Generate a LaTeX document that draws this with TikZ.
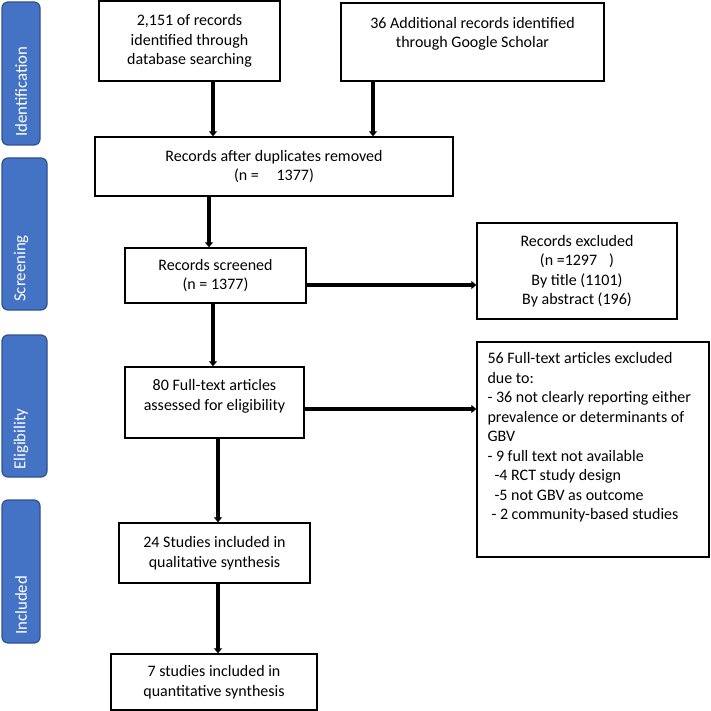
\documentclass[tikz,border=0pt]{standalone}
\usepackage{fontspec}
\setmainfont{Carlito}
\usetikzlibrary{arrows.meta}
\definecolor{bandfill}{HTML}{4472C4}
\definecolor{banddraw}{HTML}{2F528F}
\tikzset{
  box/.style={draw=black, line width=1.4pt, fill=white, inner sep=0pt, align=center,
    font=\fontsize{16}{19.5}\selectfont},
  txt/.style={inner sep=0pt, align=center, font=\fontsize{16}{19.5}\selectfont},
  band/.style={draw=banddraw, line width=1.2pt, fill=bandfill, rounded corners=6pt, inner sep=0pt},
  bandtext/.style={text=white, inner sep=0pt, rotate=90, anchor=west, font=\fontsize{16.8}{18}\selectfont},
  arr/.style={line width=4pt, -{Triangle[width=8pt,length=5pt]}}
}
\begin{document}
\begin{tikzpicture}[x=1pt,y=-1pt]
\useasboundingbox (0,0) rectangle (710,711);
% side bands
\node[band, minimum width=38, minimum height=143] (b1) at (21,73.5) {};
\node[bandtext] (t1) at (21,137) {Identification};
\node[band, minimum width=45, minimum height=152] (b2) at (24.5,234) {};
\node[bandtext] (t2) at (21,302) {Screening};
\node[band, minimum width=45, minimum height=142] (b3) at (24.5,406) {};
\node[bandtext] (t3) at (21,470) {Eligibility};
\node[band, minimum width=38, minimum height=143] (b4) at (21,571.5) {};
\node[bandtext] (t4) at (21,635) {Included};
% boxes
\node[box, minimum width=181, minimum height=80] (A) at (189.5,41)
  {2,151 of records\\identified through\\database searching};
\node[box, minimum width=263, minimum height=78] (B) at (472.5,42)
  {36 Additional records identified\\through Google Scholar\\\mbox{}};
\node[box, minimum width=358, minimum height=59] (C) at (274,166.5)
  {Records after duplicates removed\\(n = \hspace{14pt}1377)};
\node[box, minimum width=181, minimum height=55] (D) at (215.5,275.5)
  {Records screened\\(n = 1377)};
\node[box, minimum width=179, minimum height=71,
  label={[txt,yshift=6pt]center:{80 Full-text articles\\assessed for eligibility}}] (E) at (214.5,402.5) {};
\node[box, minimum width=191, minimum height=60] (F) at (214.5,553)
  {24 Studies included in\\qualitative synthesis};
\node[box, minimum width=206, minimum height=56] (G) at (214,682)
  {7 studies included in\\quantitative synthesis};
\node[box, minimum width=200, minimum height=96] (H) at (577,271)
  {Records excluded\\(n =1297\hspace{12pt})\\By title (1101)\\By abstract (196)};
\node[box, minimum width=232, minimum height=215,
  label={[txt,align=left,anchor=north west,xshift=11pt,yshift=-11pt]north west:{56 Full-text articles excluded\\due to:\\- 36 not clearly reporting either\\prevalence or determinants of\\GBV\\- 9 full text not available\\\hspace{7pt}-4 RCT study design\\\hspace{7pt}-5 not GBV as outcome\\\hspace{4pt}- 2 community-based studies}}] (I) at (593,449.5) {};
% connectors
\coordinate (a1) at ([xshift=23.5pt]A.south);
\coordinate (b1s) at ([xshift=-99.5pt]B.south);
\coordinate (c1) at ([xshift=-65pt]C.south);
\coordinate (d1) at ([xshift=-2.5pt]D.south);
\coordinate (d2) at ([yshift=-9.5pt]D.east);
\coordinate (e1) at ([xshift=3.5pt]E.south);
\coordinate (e2) at ([yshift=-6.5pt]E.east);
\coordinate (f1) at ([xshift=3.5pt]F.south);
\draw[arr] (a1) -- (a1 |- C.north);
\draw[arr] (b1s) -- (b1s |- C.north);
\draw[arr] (c1) -- (c1 |- D.north);
\draw[arr] (d1) -- (d1 |- E.north);
\draw[arr] (d2) -- (d2 -| H.west);
\draw[arr] (e1) -- (e1 |- F.north);
\draw[arr] (e2) -- (e2 -| I.west);
\draw[arr] (f1) -- (f1 |- G.north);
\end{tikzpicture}
\end{document}
